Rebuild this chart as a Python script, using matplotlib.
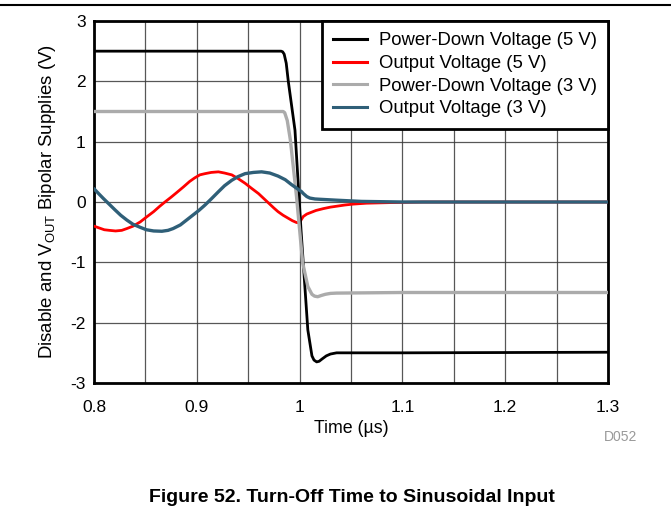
import matplotlib
matplotlib.use("Agg")
import matplotlib.pyplot as plt
from matplotlib.lines import Line2D

plt.rcParams['font.family'] = ['Liberation Sans', 'DejaVu Sans']
plt.rcParams['mathtext.default'] = 'regular'
plt.rcParams['axes.unicode_minus'] = False

# ---- data ----
pd5_t = [0.80, 0.982, 0.9835, 0.985, 0.987, 0.989, 0.9955, 1.0014, 1.008, 1.012, 1.014,
         1.0166, 1.019, 1.022, 1.026, 1.030, 1.036, 1.10, 1.30]
pd5_v = [2.50, 2.50, 2.49, 2.45, 2.30, 2.00, 1.19, -0.47, -2.12, -2.55, -2.62,
         -2.65, -2.64, -2.60, -2.55, -2.52, -2.50, -2.50, -2.49]

out5_t = [0.800, 0.805, 0.810, 0.815, 0.821, 0.827, 0.832, 0.838, 0.845, 0.851, 0.858, 0.864,
          0.869, 0.875, 0.880, 0.887, 0.893, 0.898, 0.903, 0.908, 0.914, 0.921, 0.927, 0.934,
          0.940, 0.947, 0.953, 0.960, 0.965, 0.970, 0.975, 0.979, 0.984, 0.989, 0.993, 0.997,
          0.9997, 1.0036, 1.007, 1.010, 1.016, 1.023, 1.030, 1.036, 1.044, 1.052, 1.065, 1.088,
          1.12, 1.30]
out5_v = [-0.40, -0.43, -0.46, -0.47, -0.48, -0.47, -0.44, -0.40, -0.33, -0.25, -0.16, -0.07,
          0.00, 0.08, 0.15, 0.25, 0.34, 0.40, 0.45, 0.47, 0.49, 0.50, 0.48, 0.45,
          0.39, 0.31, 0.23, 0.14, 0.06, -0.02, -0.10, -0.16, -0.22, -0.27, -0.31, -0.34,
          -0.345, -0.24, -0.20, -0.18, -0.14, -0.11, -0.085, -0.07, -0.05, -0.035, -0.02, -0.01,
          0.00, 0.00]

pd3_t = [0.80, 0.984, 0.9855, 0.988, 0.991, 0.997, 1.003, 1.008, 1.012, 1.0145, 1.0176,
         1.021, 1.025, 1.030, 1.036, 1.10, 1.30]
pd3_v = [1.50, 1.50, 1.48, 1.35, 1.03, 0.09, -1.01, -1.40, -1.53, -1.56, -1.57,
         -1.55, -1.53, -1.515, -1.51, -1.50, -1.50]

out3_t = [0.800, 0.805, 0.809, 0.815, 0.8204, 0.826, 0.832, 0.838, 0.845, 0.851, 0.858, 0.866,
          0.872, 0.877, 0.884, 0.890, 0.896, 0.902, 0.908, 0.914, 0.921, 0.927, 0.934, 0.940,
          0.947, 0.955, 0.963, 0.971, 0.979, 0.986, 0.992, 0.997, 1.002, 1.0036, 1.007, 1.010,
          1.015, 1.020, 1.036, 1.060, 1.10, 1.30]
out3_v = [0.22, 0.13, 0.06, -0.04, -0.13, -0.22, -0.30, -0.37, -0.42, -0.46, -0.48, -0.485,
          -0.47, -0.44, -0.38, -0.30, -0.22, -0.14, -0.05, 0.05, 0.17, 0.27, 0.36, 0.42,
          0.47, 0.49, 0.50, 0.48, 0.43, 0.37, 0.29, 0.23, 0.17, 0.14, 0.09, 0.065,
          0.05, 0.045, 0.03, 0.01, 0.00, 0.00]

series_labels = ["Power-Down Voltage (5 V)", "Output Voltage (5 V)",
                 "Power-Down Voltage (3 V)", "Output Voltage (3 V)"]
series_colors = ["#000000", "#FF0000", "#ABABAB", "#2F5F78"]

x_ticks = [0.8, 0.9, 1.0, 1.1, 1.2, 1.3]
x_tick_labels = ["0.8", "0.9", "1", "1.1", "1.2", "1.3"]
y_ticks = [-3, -2, -1, 0, 1, 2, 3]

# ---- figure ----
fig = plt.figure(figsize=(6.71, 5.18), dpi=100)
W, H = 671, 518
ax = fig.add_axes([94 / W, 1 - 383 / H, (608 - 94) / W, (383 - 21) / H])

data = [(pd5_t, pd5_v), (out5_t, out5_v), (pd3_t, pd3_v), (out3_t, out3_v)]
widths = [2.0, 2.0, 2.4, 2.4]
for (t, v), c, lab, lw, z in zip(data, series_colors, series_labels, widths, [4, 3, 5, 6]):
    ax.plot(t, v, color=c, lw=lw, label=lab, zorder=z, solid_joinstyle='round',
            solid_capstyle='round')

ax.set_xlim(0.8, 1.3)
ax.set_ylim(-3, 3)
ax.set_xticks(x_ticks)
ax.set_xticklabels(x_tick_labels)
ax.set_xticks([0.85, 0.95, 1.05, 1.15, 1.25], minor=True)
ax.set_yticks(y_ticks)
ax.tick_params(which='both', length=0, labelsize=12.5, colors='black')
ax.tick_params(axis='x', pad=12)
ax.tick_params(axis='y', pad=6)
ax.grid(True, which='both', color='#3a3a3a', lw=0.9, alpha=0.85)
ax.set_axisbelow(True)
for s in ax.spines.values():
    s.set_linewidth(2.0)
    s.set_color('black')

ax.set_xlabel("Time (µs)", fontsize=12.8, labelpad=4)
ax.set_ylabel("Disable and V$_{OUT}$ Bipolar Supplies (V)", fontsize=13.4, labelpad=9)

handles = [Line2D([0], [0], color=c, lw=2.2) for c in series_colors]
leg = ax.legend(handles, series_labels, loc='upper right', fontsize=13.3, frameon=True,
                fancybox=False, framealpha=1, edgecolor='black', borderpad=0.62,
                handlelength=1.84, handletextpad=0.6, labelspacing=0.3,
                borderaxespad=0.0)
leg.get_frame().set_linewidth(2.0)
leg.set_zorder(10)

fig.text(621 / W, 1 - 437 / H, "D052", fontsize=10, color='#999999', ha='center', va='center')
fig.text(352 / W, 1 - 498 / H, "Figure 52. Turn-Off Time to Sinusoidal Input",
         fontsize=14, fontweight='bold', ha='center', va='center')
fig.add_artist(Line2D([0, 1], [1 - 5 / H, 1 - 5 / H], color='black', lw=1.5,
                      transform=fig.transFigure))

fig.savefig("out.png", dpi=100)
